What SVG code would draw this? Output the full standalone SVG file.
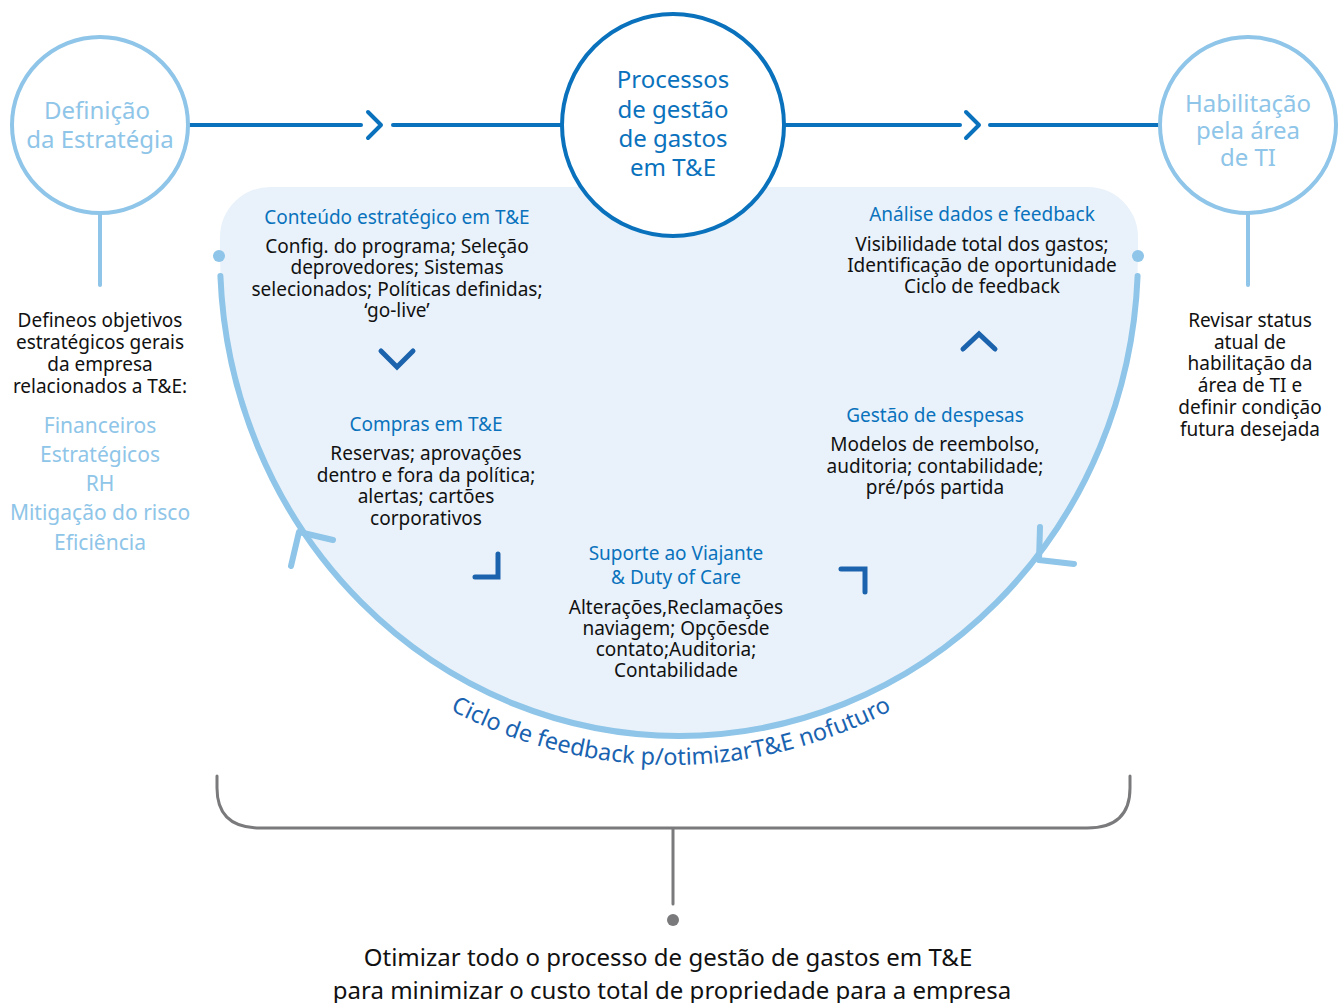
<svg xmlns="http://www.w3.org/2000/svg" width="1344" height="1003" viewBox="0 0 1344 1003">
<style>
text{font-family:"Noto Sans","Open Sans","DejaVu Sans",sans-serif;text-anchor:middle}
.lb{fill:#8ec5e8}
.db{fill:#0a72bd}
.bk{fill:#111}
.t18{font-size:19px}
.t24{font-size:24px}
.t21{font-size:21px}
.ring{fill:#fff;stroke-width:4}
.conn{stroke:#0a72bd;stroke-width:4;fill:none;stroke-linecap:round;stroke-linejoin:round}
.chev{stroke:#1c63ad;stroke-width:5;fill:none;stroke-linecap:round;stroke-linejoin:miter}
.arc{stroke:#8ec5e8;stroke-width:6;fill:none;stroke-linecap:round;stroke-linejoin:round}
.gray{stroke:#7a7a7c;stroke-width:3;fill:none;stroke-linecap:round}
</style>
<defs>
<path id="textArc" d="M 182,255 A 489 510 0 0 0 1160,255"/>
</defs>
<!-- light background of cycle -->
<path id="cycleFill" d="M 220,255 L 220,237 A 50 50 0 0 1 270,187 L 1088,187 A 50 50 0 0 1 1138,237 L 1138,255 A 459 480 0 0 1 220,255 Z" fill="#e9f2fa"/>

<g id="connectors">
<line class="conn" x1="190" y1="125" x2="361" y2="125"/>
<polyline class="conn" points="368,112 381,125 368,138"/>
<line class="conn" x1="393" y1="125" x2="562" y2="125"/>
<line class="conn" x1="785" y1="125" x2="960" y2="125"/>
<polyline class="conn" points="966,112 979,125 966,138"/>
<line class="conn" x1="990" y1="125" x2="1159" y2="125"/>
<line x1="100" y1="213" x2="100" y2="285" stroke="#8ec5e8" stroke-width="4" stroke-linecap="round"/>
<line x1="1248" y1="213" x2="1248" y2="285" stroke="#8ec5e8" stroke-width="4" stroke-linecap="round"/>
<!-- cycle arc -->
<path class="arc" d="M 220.4,276 A 459 480 0 0 0 1137.6,276"/>
<circle cx="219" cy="256" r="6" fill="#8ec5e8"/>
<circle cx="1138" cy="256" r="6" fill="#8ec5e8"/>
<polyline class="arc" points="291,566 299,532 333,540"/>
<polyline class="arc" points="1040,527 1039,560 1074,564"/>
<!-- inner chevrons -->
<polyline class="chev" points="381,351 397,367 413,351"/>
<polyline class="chev" points="963,349 979,334 995,349"/>
<polyline class="chev" points="475,577 498,577 498,554"/>
<polyline class="chev" points="841,569 865,569 865,592"/>
<!-- bottom bracket -->
<path class="gray" d="M 217,776 L 217,788 Q 217,828 260,828 L 1087,828 Q 1130,828 1130,788 L 1130,776"/>
<line class="gray" x1="673" y1="829" x2="673" y2="904"/>
<circle cx="673" cy="920" r="6" fill="#7a7a7c"/>
</g>

<g id="node-definicao">
<circle class="ring" cx="100" cy="125" r="88" stroke="#8ec5e8"/>
<text class="lb t24" x="97" y="119">Definição</text>
<text class="lb t24" x="100" y="148">da Estratégia</text>
</g>

<g id="node-processos">
<circle class="ring" cx="673" cy="125" r="111" stroke="#0a72bd"/>
<text class="db t24" x="673" y="88">Processos</text>
<text class="db t24" x="673" y="118">de gestão</text>
<text class="db t24" x="673" y="147">de gastos</text>
<text class="db t24" x="673" y="176">em T&amp;E</text>
</g>

<g id="node-habilitacao">
<circle class="ring" cx="1248" cy="125" r="88" stroke="#8ec5e8"/>
<text class="lb t24" x="1248" y="112">Habilitação</text>
<text class="lb t24" x="1248" y="139">pela área</text>
<text class="lb t24" x="1248" y="166">de TI</text>
</g>

<g id="note-definicao">
<text class="bk t18" x="100" y="327">Defineos objetivos</text>
<text class="bk t18" x="100" y="349">estratégicos gerais</text>
<text class="bk t18" x="100" y="371">da empresa</text>
<text class="bk t18" x="100" y="393">relacionados a T&amp;E:</text>
<text class="lb t21" x="100" y="433">Financeiros</text>
<text class="lb t21" x="100" y="462">Estratégicos</text>
<text class="lb t21" x="100" y="491">RH</text>
<text class="lb t21" x="100" y="520">Mitigação do risco</text>
<text class="lb t21" x="100" y="550">Eficiência</text>
</g>

<g id="note-habilitacao">
<text class="bk t18" x="1250" y="327">Revisar status</text>
<text class="bk t18" x="1250" y="349">atual de</text>
<text class="bk t18" x="1250" y="370">habilitação da</text>
<text class="bk t18" x="1250" y="392">área de TI e</text>
<text class="bk t18" x="1250" y="414">definir condição</text>
<text class="bk t18" x="1250" y="436">futura desejada</text>
</g>

<g id="node-conteudo">
<text class="db t18" x="397" y="224">Conteúdo estratégico em T&amp;E</text>
<text class="bk t18" x="397" y="253">Config. do programa; Seleção</text>
<text class="bk t18" x="397" y="274">deprovedores; Sistemas</text>
<text class="bk t18" x="397" y="296">selecionados; Políticas definidas;</text>
<text class="bk t18" x="397" y="317">‘go-live’</text>
</g>

<g id="node-compras">
<text class="db t18" x="426" y="431">Compras em T&amp;E</text>
<text class="bk t18" x="426" y="460">Reservas; aprovações</text>
<text class="bk t18" x="426" y="482">dentro e fora da política;</text>
<text class="bk t18" x="426" y="503">alertas; cartões</text>
<text class="bk t18" x="426" y="525">corporativos</text>
</g>

<g id="node-suporte">
<text class="db t18" x="676" y="560">Suporte ao Viajante</text>
<text class="db t18" x="676" y="584">&amp; Duty of Care</text>
<text class="bk t18" x="676" y="614">Alterações,Reclamações</text>
<text class="bk t18" x="676" y="635">naviagem; Opçõesde</text>
<text class="bk t18" x="676" y="656">contato;Auditoria;</text>
<text class="bk t18" x="676" y="677">Contabilidade</text>
</g>

<g id="node-gestao">
<text class="db t18" x="935" y="422">Gestão de despesas</text>
<text class="bk t18" x="935" y="451">Modelos de reembolso,</text>
<text class="bk t18" x="935" y="473">auditoria; contabilidade;</text>
<text class="bk t18" x="935" y="494">pré/pós partida</text>
</g>

<g id="node-analise">
<text class="db t18" x="982" y="221">Análise dados e feedback</text>
<text class="bk t18" x="982" y="251">Visibilidade total dos gastos;</text>
<text class="bk t18" x="982" y="272">Identificação de oportunidade</text>
<text class="bk t18" x="982" y="293">Ciclo de feedback</text>
</g>

<g id="cycle-label">
<text font-size="23.5" fill="#1a63b0"><textPath href="#textArc" startOffset="50%">Ciclo de feedback p/otimizarT&amp;E nofuturo</textPath></text>
</g>

<g id="goal">
<text class="bk" font-size="24" x="668" y="966">Otimizar todo o processo de gestão de gastos em T&amp;E</text>
<text class="bk" font-size="24" x="672" y="999">para minimizar o custo total de propriedade para a empresa</text>
</g>
</svg>
